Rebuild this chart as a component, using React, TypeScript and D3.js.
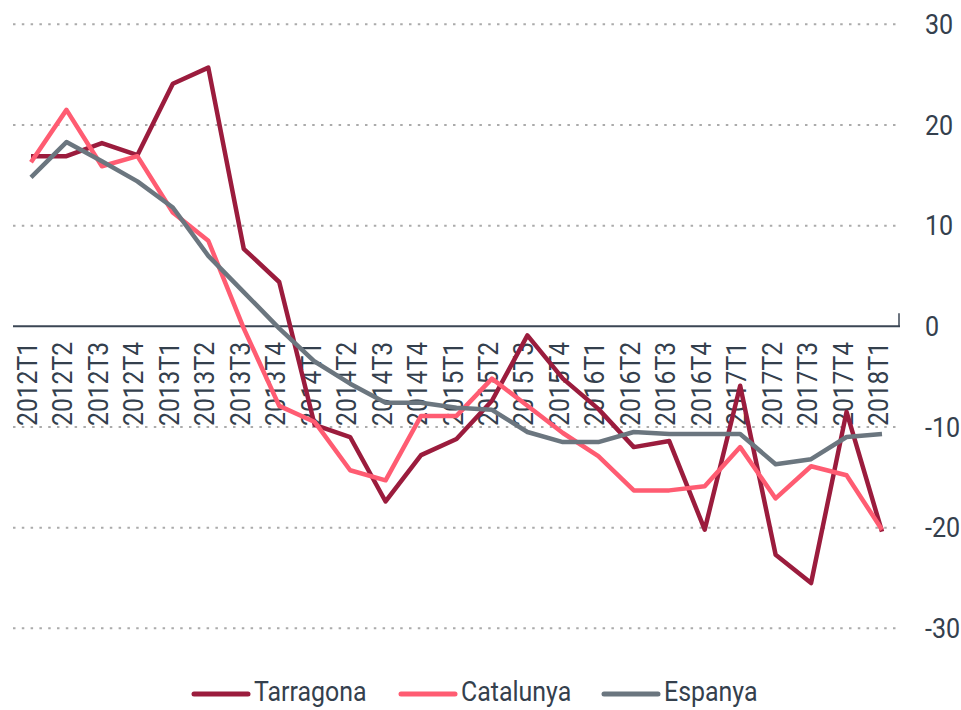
import * as d3 from "d3";

// quarterly change (%)
const quarters = [
  "2012T1", "2012T2", "2012T3", "2012T4",
  "2013T1", "2013T2", "2013T3", "2013T4",
  "2014T1", "2014T2", "2014T3", "2014T4",
  "2015T1", "2015T2", "2015T3", "2015T4",
  "2016T1", "2016T2", "2016T3", "2016T4",
  "2017T1", "2017T2", "2017T3", "2017T4",
  "2018T1",
];

const tarragona = [
  16.9, 16.9, 18.2, 17.0, 24.1, 25.7, 7.7, 4.4,
  -9.8, -11.0, -17.4, -12.8, -11.2, -7.4, -0.9, -5.2,
  -8.2, -12.0, -11.4, -20.2, -5.9, -22.7, -25.5, -8.5,
  -20.4,
];

const catalunya = [
  16.3, 21.5, 15.9, 16.9, 11.3, 8.5, -0.2, -7.9,
  -9.5, -14.3, -15.3, -8.9, -8.9, -5.2, -7.9, -10.6,
  -12.9, -16.3, -16.3, -15.9, -12.0, -17.1, -13.9, -14.8,
  -20.2,
];

const espanya = [
  14.8, 18.3, 16.4, 14.4, 11.8, 7.0, 3.4, -0.2,
  -3.5, -5.7, -7.6, -7.6, -8.1, -8.3, -10.5, -11.5,
  -11.5, -10.5, -10.7, -10.7, -10.7, -13.7, -13.2, -11.0,
  -10.7,
];

const yTicks = [30, 20, 10, 0, -10, -20, -30];

const seriesNames = ["Tarragona", "Catalunya", "Espanya"];
const seriesColors = ["#9b1c3d", "#ff5c72", "#6b767f"];

const W = 961;
const H = 710;
const TEXT = "#34404d";
const FONT = "Roboto, 'DejaVu Sans', sans-serif";

export default function App() {
  const x = d3.scalePoint<string>().domain(quarters).range([31, 882]);
  const y = d3.scaleLinear().domain([-30, 30]).range([628.3, 24.3]);

  const line = d3
    .line<number>()
    .x((_, i) => x(quarters[i]) as number)
    .y((d) => y(d));

  const allSeries = [tarragona, catalunya, espanya];
  const gridLeft = 13;
  const gridRight = 899;

  // legend: swatch start positions, swatch length, gap to text
  const legendX = [192, 399, 602];

  return (
    <svg
      width={W}
      height={H}
      style={{ position: "absolute", left: 0, top: 0, background: "#fff" }}
      fontFamily={FONT}
    >
      {/* dotted grid */}
      {yTicks
        .filter((t) => t !== 0)
        .map((t) => (
          <line
            key={"g" + t}
            x1={gridLeft}
            x2={gridRight}
            y1={y(t)}
            y2={y(t)}
            stroke="#ababab"
            strokeWidth={2}
            strokeDasharray="2.5 6.3"
          />
        ))}

      {/* zero line */}
      <line x1={gridLeft} x2={gridRight + 1} y1={y(0)} y2={y(0)} stroke="#3b4654" strokeWidth={2} />
      <line x1={gridRight} x2={gridRight} y1={y(0) - 13} y2={y(0)} stroke="#3b4654" strokeWidth={1.5} />

      {/* right axis labels */}
      {yTicks.map((t) => (
        <text
          key={"t" + t}
          transform={`translate(925,${y(t)}) scale(0.93,1)`}
          dy="0.36em"
          fontSize={27}
          fill={TEXT}
        >
          {t}
        </text>
      ))}

      {/* category labels, rotated, hanging below the zero line */}
      {quarters.map((q) => (
        <text
          key={q}
          transform={`translate(${(x(q) as number) + 6},342) rotate(-90) scale(0.88,1)`}
          textAnchor="end"
          fontSize={28}
          fill={TEXT}
        >
          {q}
        </text>
      ))}

      {/* series */}
      {allSeries.map((s, i) => (
        <path
          key={seriesNames[i]}
          d={line(s) ?? ""}
          fill="none"
          stroke={seriesColors[i]}
          strokeWidth={4.5}
          strokeLinejoin="round"
        />
      ))}

      {/* legend */}
      {seriesNames.map((name, i) => (
        <g key={"l" + name}>
          <line
            x1={legendX[i] + 2}
            x2={legendX[i] + 56}
            y1={694}
            y2={694}
            stroke={seriesColors[i]}
            strokeWidth={5}
            strokeLinecap="round"
          />
          <text
            transform={`translate(${legendX[i] + 62},701) scale(0.89,1)`}
            fontSize={28}
            fill={TEXT}
          >
            {name}
          </text>
        </g>
      ))}
    </svg>
  );
}
